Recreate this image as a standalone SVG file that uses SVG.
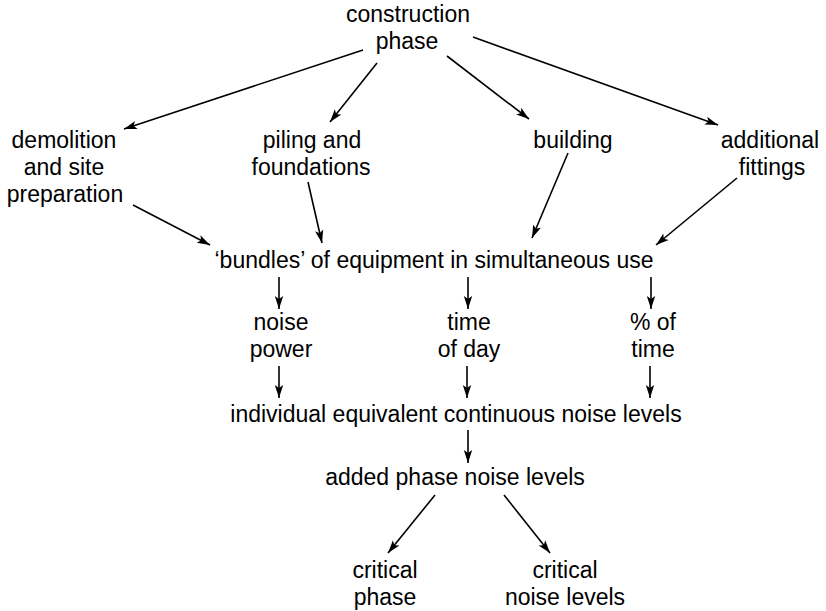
<svg xmlns="http://www.w3.org/2000/svg" width="826" height="611" viewBox="0 0 826 611">
<style>
text{font-family:"Liberation Sans",Arial,Helvetica,sans-serif;font-size:23px;fill:#000;text-anchor:middle}
.c line{stroke:#000;stroke-width:1.6;fill:none;marker-end:url(#ah)}
</style>
<defs>
<marker id="ah" markerUnits="userSpaceOnUse" markerWidth="14" markerHeight="10" viewBox="0 0 14 10" refX="13" refY="5" orient="auto">
<path d="M0,0.8 L13,5 L0,9.2 L3,5 Z" fill="#000"/>
</marker>
</defs>
<rect width="826" height="611" fill="#fff"/>
<g id="construction-phase"><text x="408" y="22">construction</text><text x="407" y="49">phase</text></g>
<g id="demolition"><text x="64" y="148">demolition</text><text x="64" y="175">and site</text><text x="65" y="202">preparation</text></g>
<g id="piling"><text x="312" y="148">piling and</text><text x="311" y="175">foundations</text></g>
<g id="building"><text x="573" y="148">building</text></g>
<g id="fittings"><text x="770" y="148">additional</text><text x="772" y="175">fittings</text></g>
<g id="bundles"><text x="434" y="268">‘bundles’ of equipment in simultaneous use</text></g>
<g id="noise-power"><text x="281" y="330">noise</text><text x="281" y="357">power</text></g>
<g id="time-of-day"><text x="469" y="330">time</text><text x="469" y="357">of day</text></g>
<g id="pct-time"><text x="653" y="330">% of</text><text x="653" y="357">time</text></g>
<g id="individual"><text x="456" y="422">individual equivalent continuous noise levels</text></g>
<g id="added"><text x="455" y="485">added phase noise levels</text></g>
<g id="critical-phase"><text x="385" y="578">critical</text><text x="385" y="605">phase</text></g>
<g id="critical-noise"><text x="565" y="578">critical</text><text x="565" y="605">noise levels</text></g>
<g id="connectors" class="c">
<line x1="363" y1="50" x2="124" y2="129"/>
<line x1="377" y1="63" x2="330" y2="122"/>
<line x1="447" y1="56" x2="529" y2="119"/>
<line x1="473" y1="37" x2="718" y2="125"/>
<line x1="133" y1="205" x2="210" y2="245"/>
<line x1="308" y1="182" x2="322" y2="243"/>
<line x1="568" y1="153" x2="532" y2="238"/>
<line x1="737" y1="178" x2="656" y2="245"/>
<line x1="279" y1="277" x2="279" y2="309"/>
<line x1="468" y1="277" x2="468" y2="309"/>
<line x1="651" y1="277" x2="651" y2="309"/>
<line x1="279" y1="366" x2="279" y2="398"/>
<line x1="467" y1="366" x2="467" y2="398"/>
<line x1="650" y1="366" x2="650" y2="398"/>
<line x1="468" y1="430" x2="468" y2="463"/>
<line x1="435" y1="495" x2="388" y2="553"/>
<line x1="504" y1="495" x2="550" y2="553"/>
</g>
</svg>
